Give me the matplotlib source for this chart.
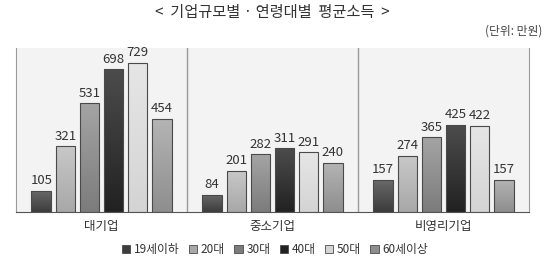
import numpy as np
import matplotlib.pyplot as plt
from matplotlib.colors import LinearSegmentedColormap

plt.rcParams['font.family'] = ['Noto Sans CJK KR', 'DejaVu Sans']

groups = ["대기업", "중소기업", "비영리기업"]
ages = ["19세이하", "20대", "30대", "40대", "50대", "60세이상"]
values = {
    "19세이하": [105, 84, 157],
    "20대": [321, 201, 274],
    "30대": [531, 282, 365],
    "40대": [698, 311, 425],
    "50대": [729, 291, 422],
    "60세이상": [454, 240, 157],
}
# (top colour, bottom colour) for the gradient fill
shades = {
    "19세이하": ("#6a6a6a", "#3c3c3c"),
    "20대": ("#c8c8c8", "#a8a8a8"),
    "30대": ("#a4a4a4", "#7c7c7c"),
    "40대": ("#4c4c4c", "#222222"),
    "50대": ("#e6e6e6", "#d4d4d4"),
    "60세이상": ("#b4b4b4", "#8e8e8e"),
}

fig = plt.figure(figsize=(5.44, 2.58), dpi=100)
ax = fig.add_axes([16 / 544, 1 - 212 / 258, (529 - 16) / 544, (212 - 48) / 258])
ax.set_facecolor("#f3f3f3")

x = np.arange(len(groups))
step = 0.141
width = 0.114
grad = np.linspace(0, 1, 64).reshape(-1, 1)

for i, age in enumerate(ages):
    pos = x + (i - 2.5) * step
    top_c, bot_c = shades[age]
    cmap = LinearSegmentedColormap.from_list(age, [bot_c, top_c])
    bars = ax.bar(pos, values[age], width, facecolor="none",
                  edgecolor="#4a4a4a", linewidth=0.8, zorder=3)
    for b, v in zip(bars, values[age]):
        x0 = b.get_x()
        im = ax.imshow(grad, extent=[x0, x0 + width, 0, v], origin="lower",
                       cmap=cmap, aspect="auto", zorder=2)
        im.set_clip_path(b)
        ax.text(x0 + width / 2, v + 18, str(v), ha="center", va="bottom",
                fontsize=9.5, color="#333333")

ax.set_xlim(-0.5, 2.5)
ax.set_ylim(0, 802)

for sep in [0.5, 1.5]:
    ax.axvline(sep, color="#9a9a9a", linewidth=1.0, zorder=1)
ax.spines["top"].set_visible(False)
ax.spines["left"].set_color("#9a9a9a")
ax.spines["right"].set_color("#9a9a9a")
ax.spines["bottom"].set_color("#555555")
ax.set_yticks([])
ax.set_xticks(x)
ax.set_xticklabels(groups, fontsize=9, color="#333333")
ax.tick_params(axis="x", length=0, pad=6)

fig.text(272 / 544, 1 - 13 / 258, "<  기업규모별 · 연령대별  평균소득  >",
         ha="center", va="center", fontsize=11, color="#333333")
fig.text(542 / 544, 1 - 31 / 258, "(단위: 만원)", ha="right", va="center",
         fontsize=8.5, color="#444444")

handles = [plt.Rectangle((0, 0), 1, 1, facecolor=shades[a][1], edgecolor="#4a4a4a",
                         linewidth=0.6) for a in ages]
fig.legend(handles, ages, loc="center", bbox_to_anchor=(275 / 544, 1 - 250 / 258),
           ncol=6, frameon=False, fontsize=8.5, handlelength=0.7, handleheight=0.7,
           handletextpad=0.3, columnspacing=0.8, labelcolor="#333333")

fig.savefig("out.png", dpi=100)
